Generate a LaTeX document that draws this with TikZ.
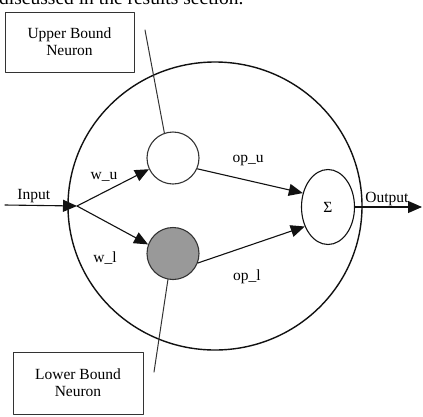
\documentclass[tikz,border=0pt]{standalone}
\usepackage{fontspec}
\setmainfont{Liberation Serif}
\usepackage{tikz}
\usetikzlibrary{arrows.meta,positioning,shapes.geometric}
\definecolor{ink}{HTML}{111111}
\definecolor{wire}{HTML}{333333}
\definecolor{shade}{HTML}{999999}
\tikzset{
  neuron diagram/.style={
    x=1pt, y=-1pt,
    font=\fontsize{15.5}{17}\selectfont,
    >={Triangle[length=14pt,width=12pt]},
    line cap=round,
    line join=round
  },
  bodyshape/.style={
    draw=ink,
    ellipse,
    line width=1.4pt,
    minimum width=294pt,
    minimum height=288pt,
    inner sep=0pt
  },
  unitcircle/.style={
    draw=wire,
    circle,
    line width=1.1pt,
    minimum size=52pt,
    inner sep=0pt
  },
  sumshape/.style={
    draw=ink,
    ellipse,
    line width=1.1pt,
    minimum width=53pt,
    minimum height=75pt,
    inner sep=0pt
  },
  labelbox/.style={
    draw=wire,
    line width=1pt,
    align=center,
    inner sep=0pt
  },
  wirearrow/.style={
    ->,
    draw=ink,
    line width=1.1pt
  },
  calloutline/.style={
    draw=wire,
    line width=1pt
  }
}
\begin{document}
\begin{tikzpicture}[neuron diagram]
\useasboundingbox (0,0) rectangle (423,416);
\node[anchor=base west, inner sep=0pt, font=\fontsize{19.5}{22}\selectfont] (caption) at (-1,4.5) {discussed in the results section.};

\node[bodyshape] (body) at (215,206) {};
\node[unitcircle] (upper) at (173,158) {};
\node[unitcircle, fill=shade] (lower) at (173,253.5) {};
\node[sumshape] (sum) at (328,207) {Σ};

\coordinate (inp) at (5,205);
\coordinate (junction) at (77,206);
\coordinate (outp) at (422,207);

\node[labelbox, minimum width=129pt, minimum height=60pt] (ubox) at (69.5,42) {Upper Bound\\Neuron};
\node[labelbox, minimum width=130pt, minimum height=62pt] (lbox) at (78,383) {Lower Bound\\Neuron};
\coordinate (ucall) at (145,30);
\coordinate (lcall) at (154,372);

\draw[wirearrow] (inp) -- node[above, pos=0.4, inner sep=2pt] (inlabel) {Input} (junction);
\draw[wirearrow] (junction) -- (upper.205);
\draw[wirearrow] (junction) -- (lower.160);
\draw[wirearrow] (upper.-24) -- (sum.151);
\draw[wirearrow] (lower.-21) -- (sum.220);
\draw[wirearrow] (sum.east) -- (outp);
\draw[calloutline] (ucall) -- (upper.109);
\draw[calloutline] (lcall) -- (lower.259);

\node (wu) at (104,177) {w\_u};
\node (wl) at (105,258) {w\_l};
\node (opu) at (248,160) {op\_u};
\node (opl) at (247,277) {op\_l};
\node (outlabel) at (387,199) {Output};
\end{tikzpicture}
\end{document}
